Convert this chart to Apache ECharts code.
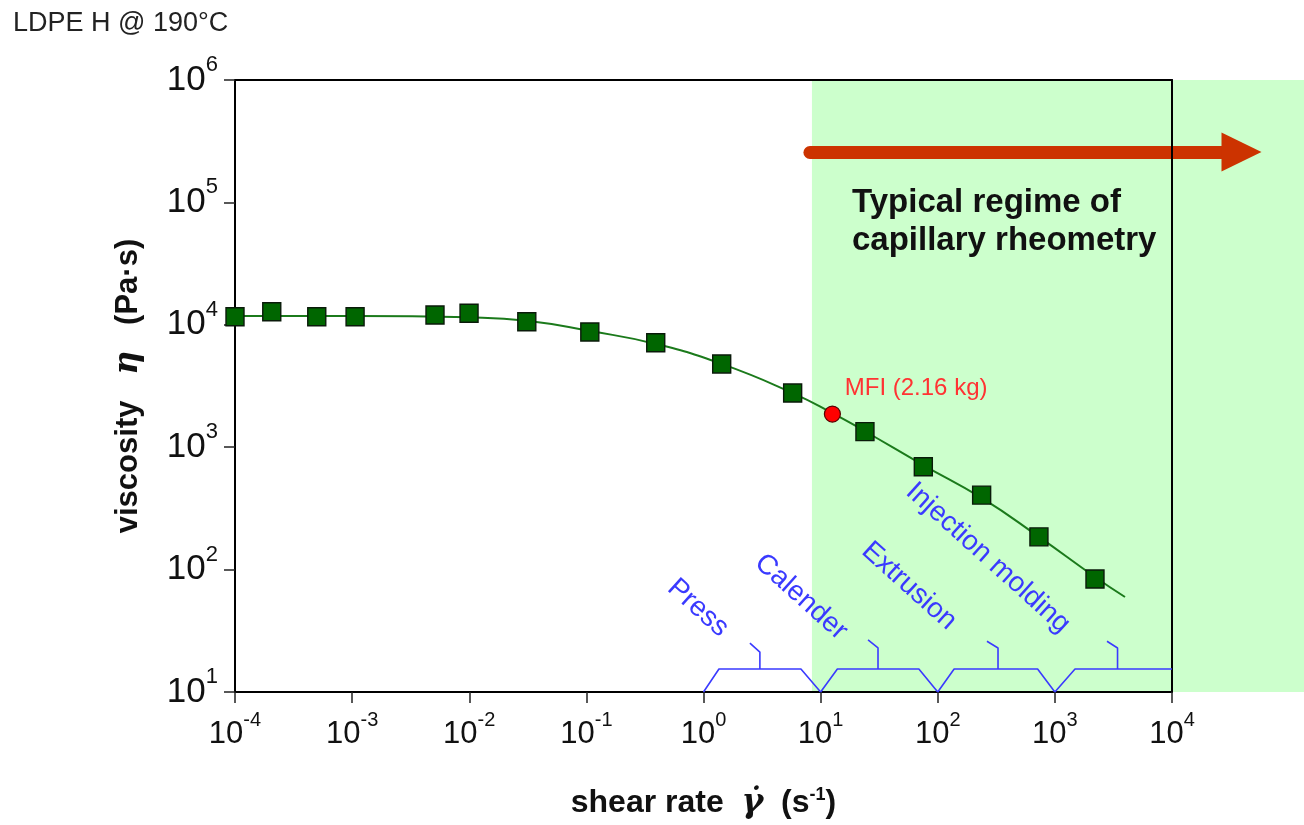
<!DOCTYPE html>
<html>
<head>
<meta charset="utf-8">
<title>LDPE H @ 190°C</title>
<script src="https://cdn.jsdelivr.net/npm/echarts@6/dist/echarts.min.js"></script>
<style>
html, body { margin: 0; padding: 0; background: #fff; }
#main { width: 1304px; height: 825px; }
</style>
</head>
<body>
<div id="main"></div>
<script>
// measured points (shear rate 1/s, viscosity Pa.s)
var shearRate = [1e-4, 2.06e-4, 4.99e-4, 1.06e-3, 5.1e-3, 9.96e-3, 0.031, 0.107, 0.391, 1.43, 5.77, 23.9, 75.3, 237, 731, 2200];
var viscosity = [11640, 12790, 11640, 11640, 12020, 12410, 10590, 8730, 7140, 4790, 2770, 1340, 693, 406, 185, 83.8];

// fitted curve
var fitShear = [1e-4, 1.06e-3, 1e-2, 0.031, 0.107, 0.39, 1.43, 5.77, 12.6, 23.9, 75, 237, 731, 2200, 3970];
var fitVisc = [11800, 11800, 11500, 10800, 8900, 6980, 4790, 2770, 1900, 1350, 715, 385, 185, 87, 59.7];

// MFI point
var mfiShear = [12.6];
var mfiVisc = [1866];

// capillary regime band and arrow
var regimeStart = 8.43;
var arrowFrom = [8.1, 2.58e5];
var arrowTo = [39200, 2.58e5];

// process brackets (press, calender, extrusion, injection molding)
var brackets = [
  [[1, 10], [1.355, 15.4], [6.79, 15.4], [10, 10]],
  [[10, 10], [13.9, 15.4], [69, 15.4], [100, 10]],
  [[100, 10], [138, 15.4], [712, 15.4], [1000, 10]],
  [[1000, 10], [1486, 15.4], [1e4, 15.4]]
];
var stems = [
  [[3.03, 15.4], [3.03, 21.2], [2.49, 25.1]],
  [[30.9, 15.4], [30.9, 22.9], [25.4, 26.6]],
  [[327, 15.4], [327, 22.9], [263, 26]],
  [[3428, 15.4], [3428, 22.9], [2786, 26]]
];
var processNames = ['Press', 'Calender', 'Extrusion', 'Injection molding'];

var FONT = "'Liberation Sans', Arial, sans-serif";
var BLUE = '#3a3aff';

function expLabel(v) {
  var e = Math.round(Math.log(v) / Math.LN10);
  return '{b|10}{s|' + e + '}';
}

var chart = echarts.init(document.getElementById('main'));

var series = [];
// green band + arrow live on a wider hidden grid
series.push({
  type: 'line', xAxisIndex: 2, yAxisIndex: 2, data: [], silent: true, z: 1,
  markArea: {
    silent: true, z: 1,
    itemStyle: { color: '#ccffcc' },
    data: [[{ coord: [regimeStart, 10] }, { coord: [Math.pow(10, 5.127), 1e6] }]]
  },
  markLine: {
    silent: true, z: 2,
    symbol: ['none', 'triangle'], symbolSize: [39, 40],
    label: { show: false },
    lineStyle: { color: '#cc3300', width: 13, type: 'solid', cap: 'round' },
    itemStyle: { color: '#cc3300' },
    emphasis: { disabled: true },
    data: [[{ coord: arrowFrom }, { coord: arrowTo }]]
  }
});

brackets.concat(stems).forEach(function (b) {
  series.push({
    type: 'line', xAxisIndex: 0, yAxisIndex: 0, data: b, symbol: 'none',
    clip: false, silent: true, z: 4,
    lineStyle: { color: BLUE, width: 1.6 }
  });
});

series.push({
  type: 'line', smooth: true, symbol: 'none', silent: true, z: 5,
  data: fitShear.map(function (x, i) { return [x, fitVisc[i]]; }),
  lineStyle: { color: '#1b7a1b', width: 2 }
});
series.push({
  type: 'scatter', symbol: 'rect', symbolSize: 18, z: 6, silent: true,
  data: shearRate.map(function (x, i) { return [x, viscosity[i]]; }),
  itemStyle: { color: '#006600', borderColor: '#0a1a0a', borderWidth: 1.4, opacity: 1 }
});
series.push({
  type: 'scatter', symbol: 'circle', symbolSize: 16, z: 7, silent: true,
  data: mfiShear.map(function (x, i) { return [x, mfiVisc[i]]; }),
  itemStyle: { color: '#ff0000', borderColor: '#550000', borderWidth: 1.2, opacity: 1 },
  label: {
    show: true, formatter: 'MFI (2.16 kg)', position: [21, -17],
    align: 'left', verticalAlign: 'middle',
    color: '#ff3333', fontSize: 24, fontFamily: FONT
  }
});

var xRich = {
  b: { fontSize: 31, lineHeight: 32, fontFamily: FONT, color: '#111' },
  s: { fontSize: 20, lineHeight: 20, fontFamily: FONT, color: '#111', padding: [0, 0, 27, 0] }
};
var yRich = {
  b: { fontSize: 35, lineHeight: 35, fontFamily: FONT, color: '#111' },
  s: { fontSize: 22, lineHeight: 22, fontFamily: FONT, color: '#111', padding: [0, 0, 30, 0] }
};

var option = {
  backgroundColor: '#fff',
  animation: false,
  title: {
    text: 'LDPE H @ 190°C', left: 13, top: 10, padding: 0,
    textStyle: { fontSize: 27, fontWeight: 'normal', color: '#222', fontFamily: FONT }
  },
  grid: [
    { left: 235, right: 132, top: 80, bottom: 133, containLabel: false },
    { left: 235, right: 0, top: 80, bottom: 133, containLabel: false }
  ],
  xAxis: [
    {
      gridIndex: 0, type: 'log', min: 1e-4, max: 1e4, splitNumber: 8, position: 'bottom', z: 3,
      axisLine: { onZero: false, lineStyle: { color: '#000', width: 2 } },
      axisTick: { length: 11, lineStyle: { color: '#222', width: 1.5 } },
      minorTick: { show: false }, splitLine: { show: false },
      axisLabel: { margin: 26, formatter: expLabel, rich: xRich },
      name: '{t|shear rate  }{g|γ̇}{t|  (s}{p|-1}{t|)}',
      nameLocation: 'middle', nameGap: 94,
      nameTextStyle: {
        rich: {
          t: { fontSize: 32, fontWeight: 'bold', lineHeight: 34, fontFamily: FONT, color: '#111' },
          g: { fontSize: 33, fontWeight: 'bold', fontStyle: 'italic', lineHeight: 34, fontFamily: "'DejaVu Serif', serif", color: '#111' },
          p: { fontSize: 18, fontWeight: 'bold', lineHeight: 18, fontFamily: FONT, color: '#111', padding: [0, 0, 16, 0] }
        }
      }
    },
    {
      gridIndex: 0, type: 'log', min: 1e-4, max: 1e4, position: 'top', z: 3,
      axisLine: { onZero: false, lineStyle: { color: '#000', width: 2 } },
      axisTick: { show: false }, axisLabel: { show: false }, splitLine: { show: false }
    },
    { gridIndex: 1, type: 'log', min: 1e-4, max: Math.pow(10, 5.127), show: false }
  ],
  yAxis: [
    {
      gridIndex: 0, type: 'log', min: 10, max: 1e6, splitNumber: 5, position: 'left', z: 3,
      axisLine: { onZero: false, lineStyle: { color: '#000', width: 2 } },
      axisTick: { length: 11, lineStyle: { color: '#222', width: 1.5 } },
      minorTick: { show: false }, splitLine: { show: false },
      axisLabel: { margin: 17, formatter: expLabel, rich: yRich },
      name: '{t|viscosity   }{g|η}{t|   (Pa·s)}',
      nameLocation: 'middle', nameRotate: 90, nameGap: 90,
      nameTextStyle: {
        rich: {
          t: { fontSize: 31, fontWeight: 'bold', lineHeight: 34, fontFamily: FONT, color: '#111' },
          g: { fontSize: 33, fontWeight: 'bold', fontStyle: 'italic', lineHeight: 34, fontFamily: "'DejaVu Serif', serif", color: '#111' }
        }
      }
    },
    {
      gridIndex: 0, type: 'log', min: 10, max: 1e6, position: 'right', z: 3,
      axisLine: { onZero: false, lineStyle: { color: '#000', width: 2 } },
      axisTick: { show: false }, axisLabel: { show: false }, splitLine: { show: false }
    },
    { gridIndex: 1, type: 'log', min: 10, max: 1e6, show: false }
  ],
  graphic: [
    {
      type: 'text', left: 852, top: 184, z: 10, silent: true,
      style: {
        text: 'Typical regime of\ncapillary rheometry',
        font: 'bold 33px ' + FONT, lineHeight: 38, fill: '#111'
      }
    }
  ],
  series: series
};

// rotated process labels
var labelCenters = [[698, 608], [801, 597], [909, 586], [988, 558]];
processNames.forEach(function (name, i) {
  option.graphic.push({
    type: 'text', x: labelCenters[i][0], y: labelCenters[i][1],
    rotation: -42 * Math.PI / 180, z: 10, silent: true,
    style: {
      text: name, font: '28px ' + FONT, fill: BLUE,
      align: 'center', verticalAlign: 'middle'
    }
  });
});

chart.setOption(option);
</script>
</body>
</html>
